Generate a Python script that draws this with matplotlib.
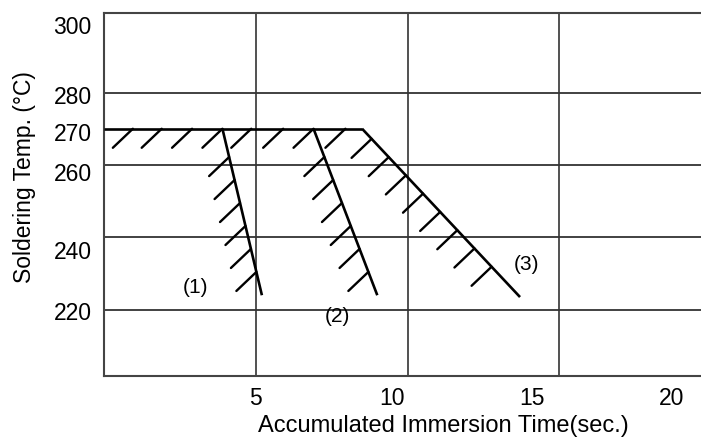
import numpy as np
import matplotlib.pyplot as plt

plt.rcParams['font.family'] = ['Liberation Sans', 'DejaVu Sans']

# plateau at 270 C and the three limit lines (time in s, temp in C)
plateau_x = [0, 8.5]
plateau_y = [270, 270]
line1_x = [3.9, 5.2]
line1_y = [270, 224]
line2_x = [6.9, 9.0]
line2_y = [270, 224]
line3_x = [8.5, 13.7]
line3_y = [270, 223.5]

curve_labels = ['(1)', '(2)', '(3)']
label_x = [3.0, 7.7, 13.9]
label_y = [226, 218, 232.5]

grid_x = [5, 10, 15]
grid_y = [220, 240, 260, 280]

# tick labels sit where they were drawn in the original sheet
xtick_pos = [5, 9.5, 14.1, 18.7]
xtick_labels = ['5', '10', '15', '20']
ytick_pos = [298.6, 279.3, 269.2, 258.1, 236.5, 219.7]
ytick_labels = ['300', '280', '270', '260', '240', '220']

plateau_hatch_x = [0.95, 1.9, 2.9, 3.9, 4.85, 5.9, 6.9, 7.95]


def hatch_at(ax, x, y):
    ax.annotate('', xy=(x, y), xytext=(-14.4, -13.7), textcoords='offset points',
                arrowprops=dict(arrowstyle='-', lw=1.7, color='black',
                                shrinkA=0, shrinkB=0))


def hatch_line(ax, xs, ys, ts):
    for t in ts:
        hatch_at(ax, xs[0] + t * (xs[1] - xs[0]), ys[0] + t * (ys[1] - ys[0]))


fig = plt.figure(figsize=(7.01, 4.41), dpi=100)
ax = fig.add_axes([104 / 701, 1 - 376.3 / 441, 597 / 701, 363 / 441])
ax.set_xlim(0, 19.66)
ax.set_ylim(201.6, 301.9)

for gx in grid_x:
    ax.axvline(gx, color='#222222', lw=1.1, zorder=1)
for gy in grid_y:
    ax.axhline(gy, color='#333333', lw=1.3, zorder=1)

for xs, ys in [(plateau_x, plateau_y), (line1_x, line1_y), (line2_x, line2_y), (line3_x, line3_y)]:
    ax.plot(xs, ys, color='black', lw=1.9, solid_capstyle='butt', zorder=3)

for hx in plateau_hatch_x:
    hatch_at(ax, hx, plateau_y[0])
hatch_line(ax, line1_x, line1_y, np.linspace(0.17, 0.86, 6))
hatch_line(ax, line2_x, line2_y, np.linspace(0.17, 0.86, 6))
hatch_line(ax, line3_x, line3_y, np.linspace(0.06, 0.82, 8))

for lab, lx, ly in zip(curve_labels, label_x, label_y):
    ax.text(lx, ly, lab, fontsize=15, ha='center', va='center')

ax.set_xticks(xtick_pos)
ax.set_xticklabels(xtick_labels)
ax.set_yticks(ytick_pos)
ax.set_yticklabels(ytick_labels)
ax.tick_params(axis='both', length=0, labelsize=16.5)
ax.tick_params(axis='x', pad=8)
ax.tick_params(axis='y', pad=9)

ax.spines['right'].set_visible(False)
for s in ['left', 'bottom', 'top']:
    ax.spines[s].set_color('#444444')
    ax.spines[s].set_linewidth(1.5)

fig.text(443 / 701, 1 - 426 / 441, 'Accumulated Immersion Time(sec.)', fontsize=17,
         ha='center', va='center')
fig.text(25 / 701, 1 - 177 / 441, 'Soldering Temp. (°C)', fontsize=16.5,
         ha='center', va='center', rotation=90)

fig.savefig('out.png', dpi=100)
